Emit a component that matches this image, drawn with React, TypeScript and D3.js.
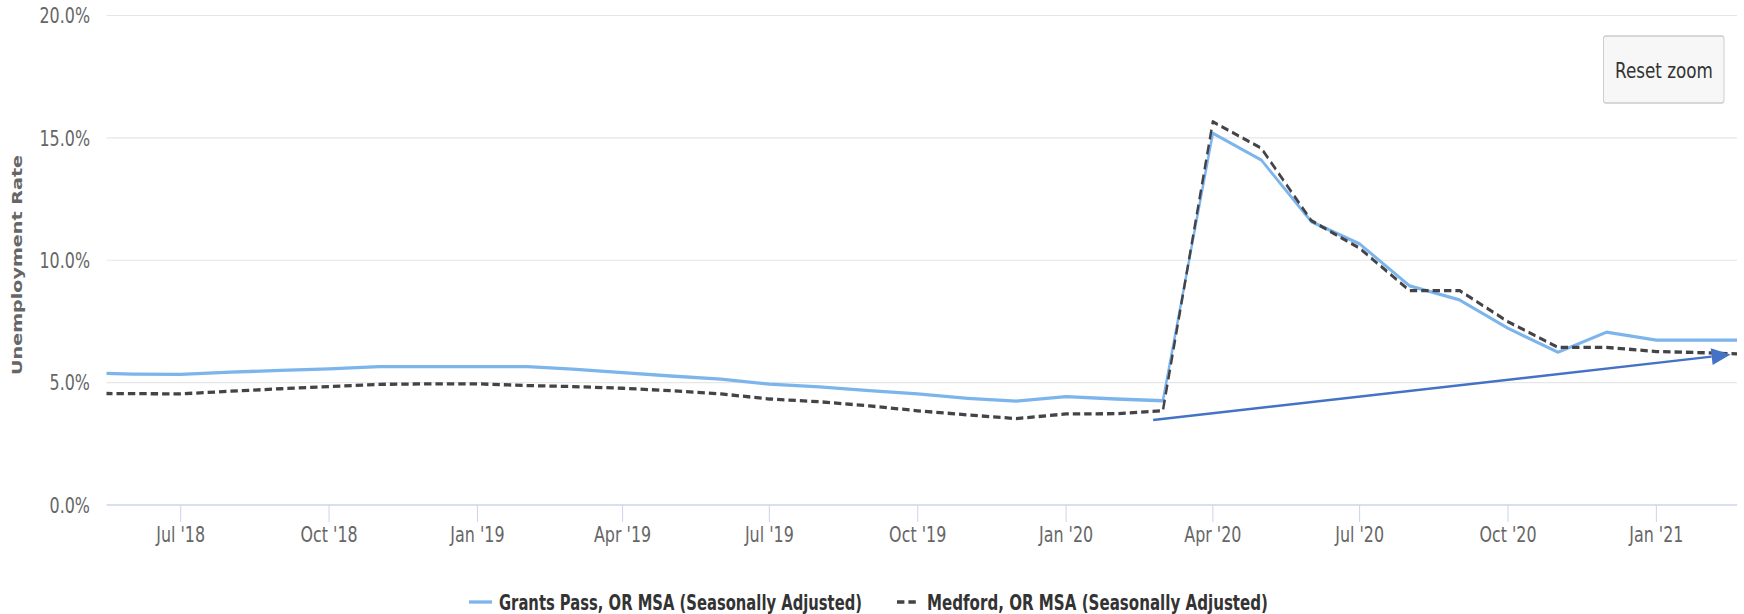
import React from "react";
import * as d3 from "d3";

// ---------- data ----------
const months = [
  "2018-05", "2018-06", "2018-07", "2018-08", "2018-09", "2018-10", "2018-11", "2018-12",
  "2019-01", "2019-02", "2019-03", "2019-04", "2019-05", "2019-06", "2019-07", "2019-08",
  "2019-09", "2019-10", "2019-11", "2019-12",
  "2020-01", "2020-02", "2020-03", "2020-04", "2020-05", "2020-06", "2020-07", "2020-08",
  "2020-09", "2020-10", "2020-11", "2020-12",
  "2021-01", "2021-02", "2021-03",
];

const grantsPass = [
  5.4, 5.35, 5.34, 5.43, 5.5, 5.56, 5.65, 5.65,
  5.65, 5.65, 5.55, 5.41, 5.27, 5.14, 4.94, 4.83,
  4.67, 4.54, 4.36, 4.24,
  4.43, 4.33, 4.26, 15.19, 14.1, 11.58, 10.67, 8.95,
  8.38, 7.22, 6.24, 7.06,
  6.74, 6.74, 6.74,
];

const medford = [
  4.56, 4.55, 4.54, 4.65, 4.75, 4.84, 4.93, 4.95,
  4.95, 4.88, 4.84, 4.77, 4.67, 4.54, 4.33, 4.22,
  4.05, 3.85, 3.68, 3.53,
  3.72, 3.73, 3.85, 15.66, 14.58, 11.62, 10.49, 8.76,
  8.76, 7.49, 6.44, 6.44,
  6.27, 6.22, 6.15,
];

const seriesNames = [
  "Grants Pass, OR MSA (Seasonally Adjusted)",
  "Medford, OR MSA (Seasonally Adjusted)",
];
const yTicks = [0, 5, 10, 15, 20];
const yTitle = "Unemployment Rate";
const viewRange = ["2018-05-16", "2021-02-20"];
const arrowStart = { date: "2020-02-24", value: 3.47 };
const arrowEnd = { date: "2021-02-16", value: 6.15 };
const resetLabel = "Reset zoom";

// ---------- layout ----------
const W = 1744;
const H = 614;
const SX = 0.74; // horizontal compression of the picture
const VW = W / SX;
const PL = 106.5;
const PR = 1737;
const PT = 15.5;
const PB = 505;
const FONT = "'DejaVu Sans', Verdana, sans-serif";

const parseMonth = d3.utcParse("%Y-%m");
const parseDay = d3.utcParse("%Y-%m-%d");

export default function App() {
  const x = d3
    .scaleUtc()
    .domain([parseDay(viewRange[0])!, parseDay(viewRange[1])!])
    .range([PL / SX, PR / SX]);
  const y = d3.scaleLinear().domain([0, 20]).range([PB, PT]);

  const dates = months.map((m) => parseMonth(m)!);
  const line = d3
    .line<number>()
    .x((_, i) => x(dates[i]))
    .y((v) => y(v))
    .curve(d3.curveLinear);

  const xTicks = x.ticks(d3.utcMonth.every(3)!);
  const fmt = d3.utcFormat("%b '%y");

  // arrow in screen pixels, then back to user units
  const ax0 = x(parseDay(arrowStart.date)!) * SX;
  const ay0 = y(arrowStart.value);
  const ax1 = x(parseDay(arrowEnd.date)!) * SX;
  const ay1 = y(arrowEnd.value);
  const len = Math.hypot(ax1 - ax0, ay1 - ay0);
  const ux = (ax1 - ax0) / len;
  const uy = (ay1 - ay0) / len;
  const hl = 19;
  const hw = 8.5;
  const bx = ax1 - ux * hl;
  const by = ay1 - uy * hl;
  const head = [
    [ax1, ay1],
    [bx - uy * hw, by + ux * hw],
    [bx + uy * hw, by - ux * hw],
  ]
    .map(([px, py]) => `${px / SX},${py}`)
    .join(" ");

  const dash = "10,5.4";

  return (
    <svg
      width={W}
      height={H}
      viewBox={`0 0 ${VW} ${H}`}
      preserveAspectRatio="none"
      style={{ position: "absolute", left: 0, top: 0, display: "block", background: "#ffffff" }}
    >
      <defs>
        <clipPath id="plotClip">
          <rect x={PL / SX} y={0} width={(PR - PL) / SX} height={PB + 2} />
        </clipPath>
      </defs>

      {/* grid lines */}
      {yTicks
        .filter((t) => t > 0)
        .map((t) => (
          <line
            key={`g${t}`}
            x1={PL / SX}
            x2={PR / SX}
            y1={y(t)}
            y2={y(t)}
            stroke="#e6e6e6"
            strokeWidth={1.2}
          />
        ))}

      {/* x axis */}
      <line x1={PL / SX} x2={PR / SX} y1={PB} y2={PB} stroke="#ccd6eb" strokeWidth={1.5} />
      {xTicks.map((t) => (
        <g key={`xt${t.getTime()}`}>
          <line
            x1={x(t)}
            x2={x(t)}
            y1={PB}
            y2={PB + 17}
            stroke="#ccd6eb"
            strokeWidth={1.4}
          />
          <text
            x={x(t)}
            y={542.5}
            textAnchor="middle"
            fontFamily={FONT}
            fontSize={21.5}
            fill="#666666"
          >
            {fmt(t)}
          </text>
        </g>
      ))}

      {/* y labels */}
      {yTicks.map((t) => (
        <text
          key={`yl${t}`}
          x={90 / SX}
          y={y(t)}
          dy="0.36em"
          textAnchor="end"
          fontFamily={FONT}
          fontSize={21.5}
          fill="#666666"
        >
          {`${t.toFixed(1)}%`}
        </text>
      ))}

      {/* y title */}
      <text
        transform={`translate(${16.5 / SX},${265}) rotate(-90)`}
        textAnchor="middle"
        dy="0.36em"
        fontFamily={FONT}
        fontSize={20}
        fontWeight="bold"
        fill="#666666"
        textLength={220}
        lengthAdjust="spacingAndGlyphs"
      >
        {yTitle}
      </text>

      {/* series */}
      <g clipPath="url(#plotClip)">
        <path
          d={line(grantsPass) || ""}
          fill="none"
          stroke="#7cb5ec"
          strokeWidth={3.3}
          strokeLinejoin="round"
          strokeLinecap="round"
        />
        <path
          d={line(medford) || ""}
          fill="none"
          stroke="#434348"
          strokeWidth={3.3}
          strokeDasharray={dash}
          strokeLinejoin="round"
        />
      </g>

      {/* arrow annotation */}
      <line
        x1={ax0 / SX}
        y1={ay0}
        x2={bx / SX}
        y2={by}
        stroke="#4472c4"
        strokeWidth={2.5}
      />
      <polygon points={head} fill="#4472c4" />

      {/* reset zoom button */}
      <rect
        x={1603.5 / SX}
        y={36}
        width={(1724 - 1603.5) / SX}
        height={67}
        rx={3}
        fill="#f7f7f7"
        stroke="#cccccc"
        strokeWidth={1.3}
      />
      <text
        x={1664 / SX}
        y={70}
        dy="0.36em"
        textAnchor="middle"
        fontFamily={FONT}
        fontSize={22}
        fill="#333333"
        textLength={98 / SX}
        lengthAdjust="spacingAndGlyphs"
      >
        {resetLabel}
      </text>

      {/* legend */}
      <line x1={469 / SX} x2={492 / SX} y1={602} y2={602} stroke="#7cb5ec" strokeWidth={3.3} />
      <text
        x={499 / SX}
        y={610}
        fontFamily={FONT}
        fontSize={21}
        fontWeight="bold"
        fill="#333333"
        textLength={363 / SX}
        lengthAdjust="spacingAndGlyphs"
      >
        {seriesNames[0]}
      </text>
      <line
        x1={897 / SX}
        x2={917.5 / SX}
        y1={602}
        y2={602}
        stroke="#434348"
        strokeWidth={3.3}
        strokeDasharray={dash}
      />
      <text
        x={927 / SX}
        y={610}
        fontFamily={FONT}
        fontSize={21}
        fontWeight="bold"
        fill="#333333"
        textLength={341 / SX}
        lengthAdjust="spacingAndGlyphs"
      >
        {seriesNames[1]}
      </text>
    </svg>
  );
}
